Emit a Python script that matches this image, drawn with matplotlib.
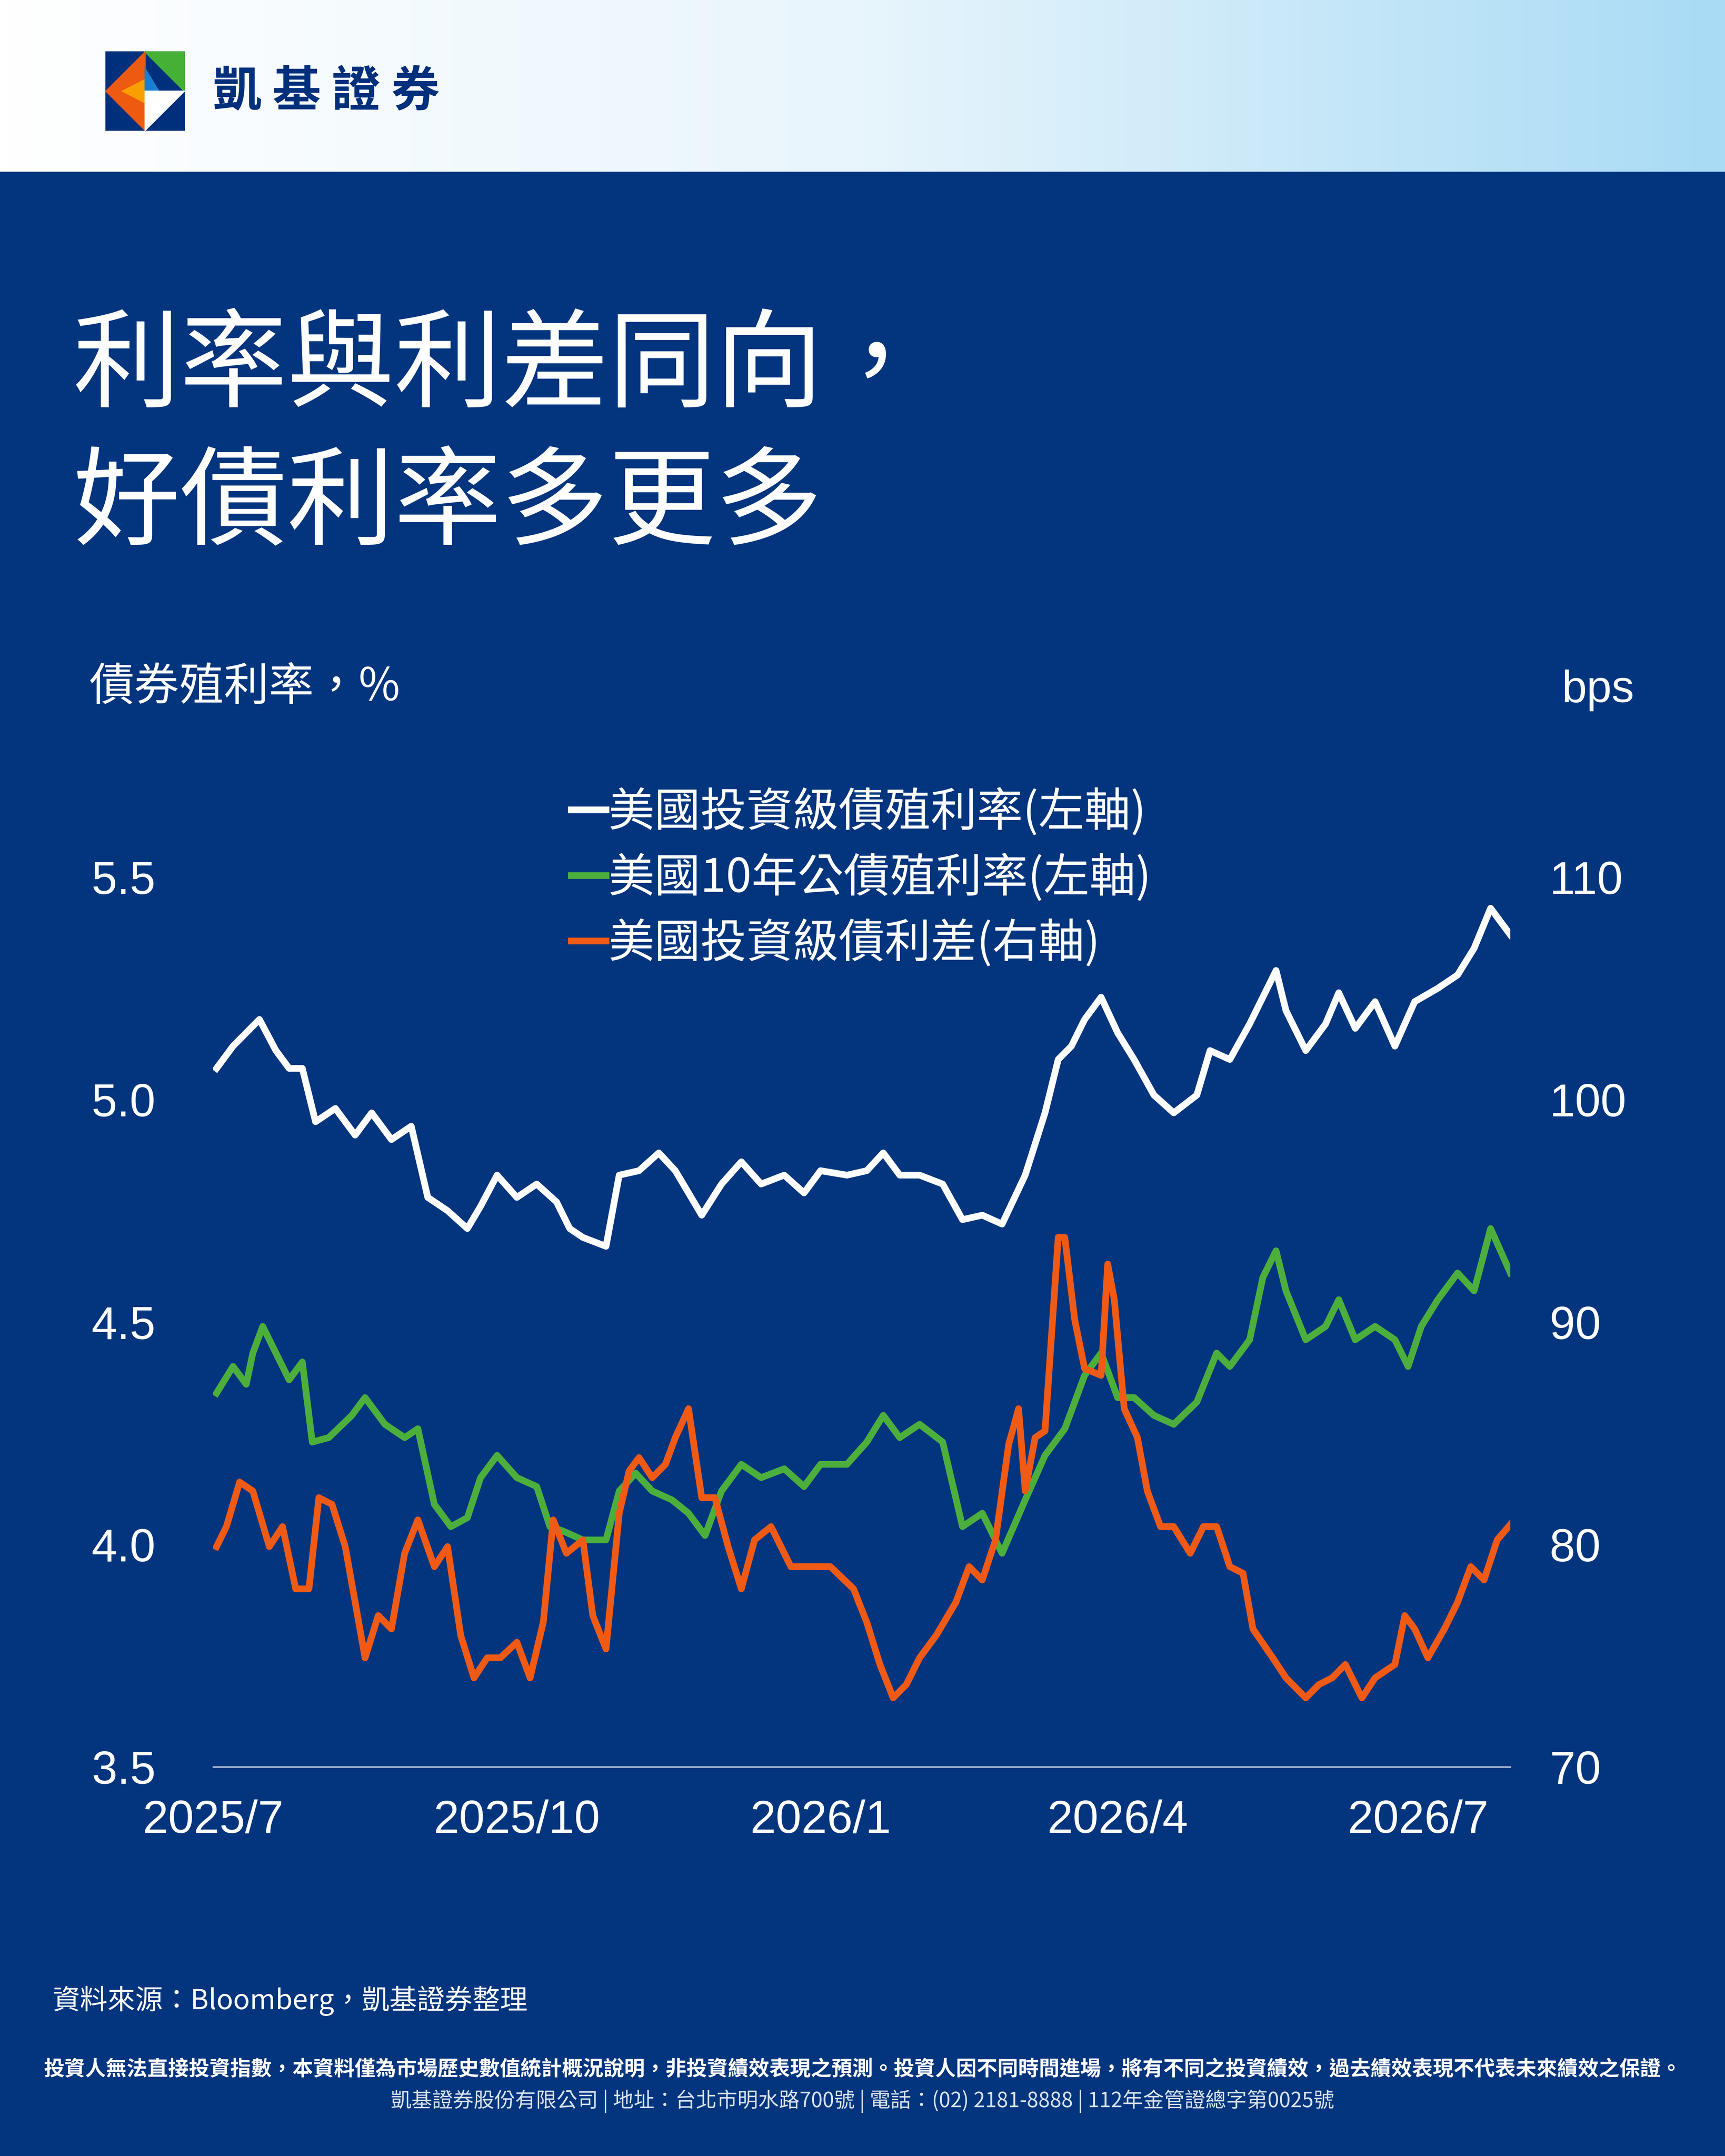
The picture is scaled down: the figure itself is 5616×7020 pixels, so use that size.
import matplotlib
matplotlib.use("Agg")
import matplotlib.pyplot as plt
import numpy as np
import pandas as pd
from matplotlib.patches import Polygon, Rectangle
from matplotlib.colors import LinearSegmentedColormap

plt.rcParams['font.family'] = ['Noto Sans CJK TC', 'DejaVu Sans']

START = pd.Timestamp("2025-07-01")

# IG yield (left axis, %) : day offset from 2025-07-01, value
ig_days = [1,6,10,14,19,23,27,31,37,43,48,54,60,65,71,77,81,86,92,98,104,108,112,119,123,129,135,140,148,154,160,166,173,179,184,192,198,203,208,214,221,227,233,239,246,252,256,260,264,269,274,279,285,291,298,302,308,314,322,325,331,337,341,346,352,358,364,371,377,382,387,393]
ig_vals = [5.07,5.12,5.15,5.18,5.11,5.07,5.07,4.95,4.98,4.92,4.97,4.91,4.94,4.78,4.75,4.71,4.76,4.83,4.78,4.81,4.77,4.71,4.69,4.67,4.83,4.84,4.88,4.84,4.74,4.81,4.86,4.81,4.83,4.79,4.84,4.83,4.84,4.88,4.83,4.83,4.81,4.73,4.74,4.72,4.83,4.97,5.09,5.12,5.18,5.23,5.15,5.09,5.01,4.97,5.01,5.11,5.09,5.17,5.29,5.20,5.11,5.17,5.24,5.16,5.22,5.12,5.22,5.25,5.28,5.34,5.43,5.37]

# US 10Y yield (left axis, %)
ust_days = [1,6,10,12,15,19,23,27,30,35,42,46,52,58,62,67,72,77,81,86,92,98,102,106,112,119,123,128,133,139,144,149,154,160,166,173,179,184,192,198,203,208,214,221,227,233,239,246,252,258,264,269,274,279,285,291,298,304,308,314,318,322,325,331,337,341,346,352,358,362,366,371,377,382,387,393]
ust_vals = [4.34,4.40,4.36,4.43,4.49,4.43,4.37,4.41,4.23,4.24,4.29,4.33,4.27,4.24,4.26,4.09,4.04,4.06,4.15,4.20,4.15,4.13,4.04,4.03,4.01,4.01,4.12,4.16,4.12,4.10,4.07,4.02,4.12,4.18,4.15,4.17,4.13,4.18,4.18,4.23,4.29,4.24,4.27,4.23,4.04,4.07,3.98,4.10,4.20,4.26,4.38,4.43,4.33,4.33,4.29,4.27,4.32,4.43,4.40,4.46,4.60,4.66,4.57,4.46,4.49,4.55,4.46,4.49,4.46,4.40,4.49,4.55,4.61,4.57,4.71,4.61]

# IG spread (right axis, bps)
sp_days = [1,4,8,12,17,21,25,29,32,36,40,46,50,54,58,62,67,71,75,79,83,87,92,96,100,103,107,112,115,119,123,126,129,133,137,140,144,148,152,156,160,164,169,175,181,187,194,198,202,206,210,214,219,225,229,233,237,241,244,246,249,252,256,258,261,264,269,271,273,276,280,283,287,291,296,300,304,308,312,315,321,325,331,335,339,343,348,352,358,361,364,368,373,377,381,385,389,393]
sp_vals = [79.9,80.8,82.8,82.4,79.9,80.8,78.0,78.0,82.1,81.8,79.9,74.9,76.8,76.2,79.6,81.1,79.0,79.9,75.9,74.0,74.9,74.9,75.6,74.0,76.5,81.1,79.6,80.2,76.8,75.3,81.4,83.3,83.9,83.0,83.6,84.8,86.1,82.1,82.1,79.9,78.0,80.2,80.8,79.0,79.0,79.0,78.0,76.5,74.6,73.1,73.7,74.9,75.9,77.4,79.0,78.4,80.2,84.5,86.1,82.4,84.8,85.1,93.8,93.8,90.1,87.9,87.6,92.6,91.0,86.1,84.8,82.4,80.8,80.8,79.6,80.8,80.8,79.0,78.7,76.2,74.9,74.0,73.1,73.7,74.0,74.6,73.1,74.0,74.6,76.8,76.2,74.9,76.2,77.4,79.0,78.4,80.2,80.9]

ticks_left = [3.5, 4.0, 4.5, 5.0, 5.5]
ticks_right = [70, 80, 90, 100, 110]
xtick_dates = ["2025-07-01", "2025-10-01", "2026-01-01", "2026-04-01", "2026-07-01"]
xtick_labels = ["2025/7", "2025/10", "2026/1", "2026/4", "2026/7"]
legend_labels = ["美國投資級債殖利率(左軸)", "美國10年公債殖利率(左軸)", "美國投資級債利差(右軸)"]

W, H = 1254, 1568
BG = "#02357E"
NUMFONT = ["Liberation Sans", "DejaVu Sans"]
fig = plt.figure(figsize=(20.8, 26.0033), dpi=270)
fig.patch.set_facecolor(BG)

ov = fig.add_axes([0, 0, 1, 1], zorder=0)
ov.axis("off")
grad = np.linspace(0, 1, 256)[None, :]
cm = LinearSegmentedColormap.from_list("h", ["#ffffff", "#e8f5fc", "#a9dbf5"])
ov.imshow(grad, extent=(0, W, 125, 0), cmap=cm, aspect="auto", zorder=0)
ov.set_xlim(0, W); ov.set_ylim(H, 0)
# logo
lx0, lx1, ly0, ly1 = 77, 134, 38, 95
lm = (lx0 + lx1) / 2; ym = (ly0 + ly1) / 2
ov.add_patch(Rectangle((lx0, ly0), lx1 - lx0, ly1 - ly0, color="#002F7C", zorder=2))
ov.add_patch(Polygon([(lm, ly0), (lx1, ly0), (lx1, ym)], color="#45AF36", zorder=3))
ov.add_patch(Polygon([(lx0, ym), (lm, ly0), (lm, ly1)], color="#EE5A10", zorder=3))
ov.add_patch(Polygon([(lx0 + 12, ym), (lm, ly0 + 20), (lm, ly1 - 20)], color="#F9A000", zorder=3))
ov.add_patch(Polygon([(lm, ym), (lm, ly0 + 12), (lm + 10, ym)], color="#1A7FD0", zorder=3))
ov.add_patch(Polygon([(lm, ym), (lx1, ym), (lm, ly1)], color="white", zorder=3))
ov.text(155, 67, "凱 基 證 券", color="#002F7C", fontsize=42, fontweight="bold", va="center", ha="left", zorder=3)

ov.text(53, 268, "利率與利差同向，", color="white", fontsize=93, fontweight="light", va="center", ha="left")
ov.text(53, 368, "好債利率多更多", color="white", fontsize=93, fontweight="light", va="center", ha="left")
ov.text(65, 500, "債券殖利率，%", color="white", fontsize=39, va="center", ha="left")
ov.text(1188, 502, "bps", color="white", fontsize=39, va="center", ha="right", family=NUMFONT)
ov.text(38, 1455, "資料來源：Bloomberg，凱基證券整理", color="white", fontsize=24, va="center", ha="left")
ov.text(627, 1505, "投資人無法直接投資指數，本資料僅為市場歷史數值統計概況說明，非投資績效表現之預測。投資人因不同時間進場，將有不同之投資績效，過去績效表現不代表未來績效之保證。",
        color="white", fontsize=18, fontweight="bold", va="center", ha="center")
ov.text(627, 1528, "凱基證券股份有限公司 | 地址：台北市明水路700號 | 電話：(02) 2181-8888 | 112年金管證總字第0025號",
        color="#D8E2F0", fontsize=18, va="center", ha="center")

left, right = 155 / W, 1098 / W
bottom, top = 1 - 1285 / H, 1 - 638 / H
ax = fig.add_axes([left, bottom, right - left, top - bottom], zorder=2)
ax.patch.set_alpha(0)
ax2 = ax.twinx()
ax2.patch.set_alpha(0)

to_dates = lambda d: START + pd.to_timedelta(d, unit="D")
lw = 5.8
l1, = ax.plot(to_dates(ig_days), ig_vals, color="white", lw=lw, solid_joinstyle="round")
l2, = ax.plot(to_dates(ust_days), ust_vals, color="#4CAF3C", lw=lw, solid_joinstyle="round")
l3, = ax2.plot(to_dates(sp_days), sp_vals, color="#F05A14", lw=lw, solid_joinstyle="round")

ax.set_xlim(START, START + pd.Timedelta(days=393))
ax.set_ylim(3.5, 5.5); ax2.set_ylim(70, 110)
ax.set_yticks(ticks_left); ax.set_yticklabels([f"{t:.1f}" for t in ticks_left])
ax2.set_yticks(ticks_right); ax2.set_yticklabels([str(t) for t in ticks_right])
ax.set_xticks(pd.to_datetime(xtick_dates)); ax.set_xticklabels(xtick_labels)
for a in (ax, ax2):
    for s in a.spines.values():
        s.set_visible(False)
    a.tick_params(length=0, colors="white", labelsize=40)
    for lab in a.get_xticklabels() + a.get_yticklabels():
        lab.set_family(NUMFONT)
ax.spines["bottom"].set_visible(True)
ax.spines["bottom"].set_color("#C8D4E6"); ax.spines["bottom"].set_linewidth(1.2)
ax.tick_params(axis="y", pad=50)
ax.tick_params(axis="x", pad=28)
ax2.tick_params(axis="y", pad=34)

leg = ax.legend([l1, l2, l3], legend_labels, loc="upper left", bbox_to_anchor=((402 - 155) / 943, 1.12),
                frameon=False, fontsize=40, labelcolor="white", handlelength=0.75, handletextpad=0.05,
                labelspacing=0.38, borderaxespad=0)

fig.savefig("out.png", dpi=270, facecolor=BG)
